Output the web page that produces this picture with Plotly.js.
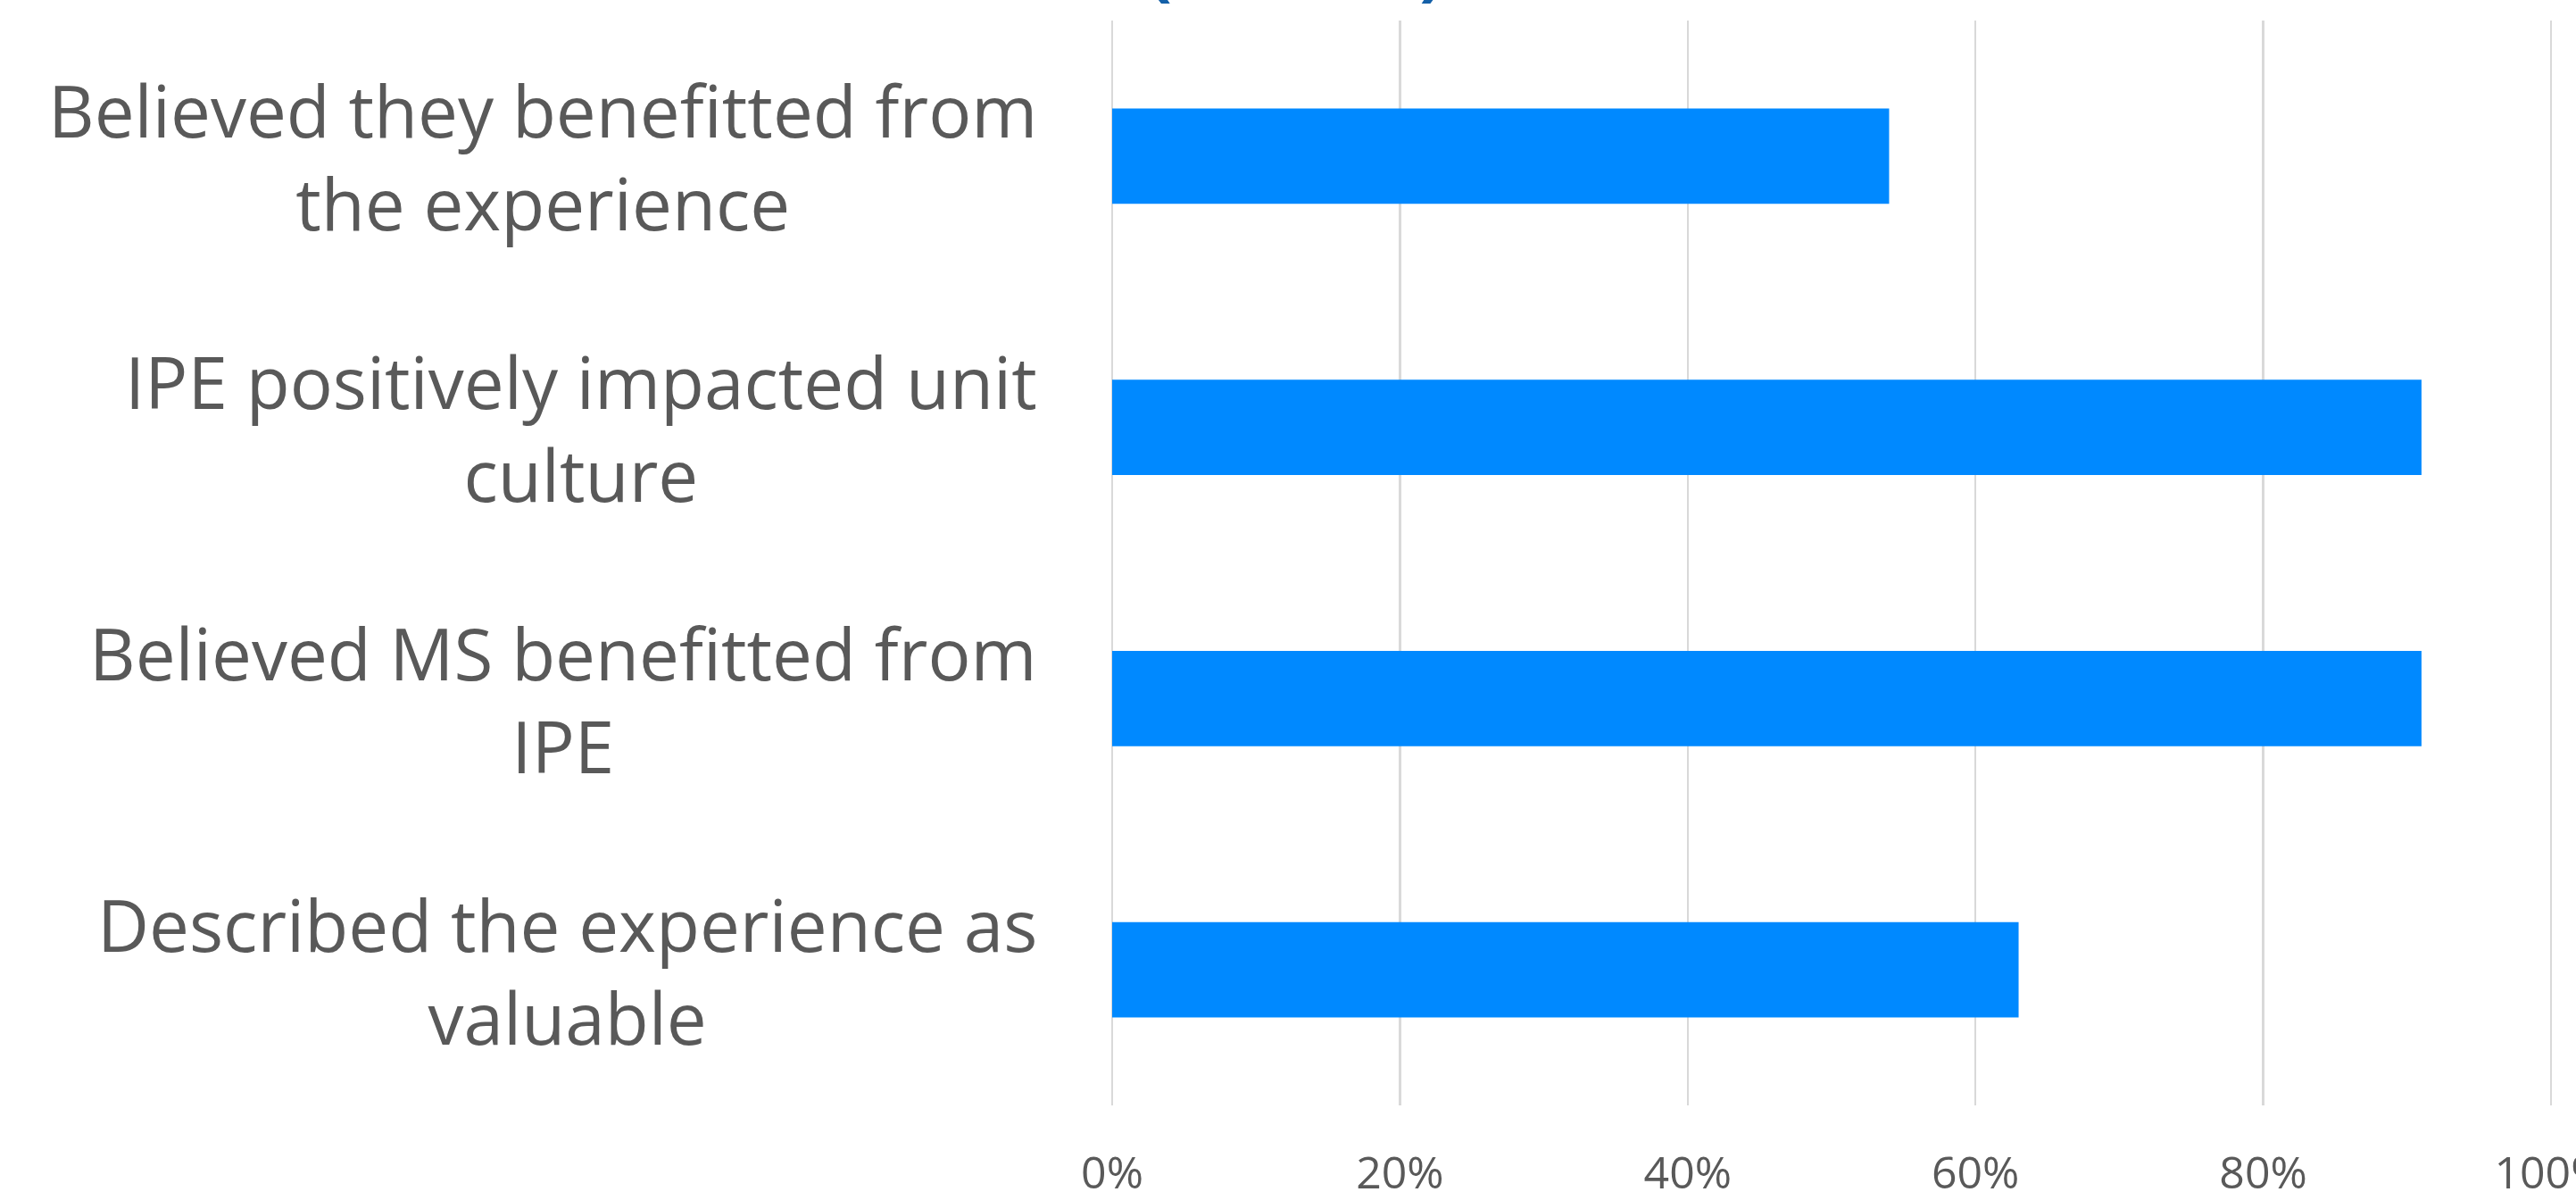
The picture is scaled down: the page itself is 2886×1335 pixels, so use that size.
<!DOCTYPE html>
<html>
<head>
<meta charset="utf-8">
<script src="https://cdn.plot.ly/plotly-3.0.1.min.js"></script>
<style>
html,body{margin:0;padding:0;background:#fff;}
#chart{width:2886px;height:1335px;}
</style>
</head>
<body>
<div id="chart"></div>
<script>
const categories = [
  "Believed they benefitted from<br>the experience",
  "IPE positively impacted unit<br>culture",
  "Believed MS benefitted from<br>IPE",
  "Described the experience as<br>valuable"
];
const values = [0.54, 0.91, 0.91, 0.63];
const tickValues = [0, 0.2, 0.4, 0.6, 0.8, 1.0];
const tickLabels = ["0%", "20%", "40%", "60%", "80%", "100%"];
const titleText = "<b>(n = 110)</b>";

const ids = categories.map((c, i) => "c" + i);

const trace = {
  type: "bar",
  orientation: "h",
  x: values,
  y: ids,
  marker: {color: "#0089FF", line: {width: 0}},
  hoverinfo: "none"
};

const annotations = categories.map((c, i) => ({
  text: c,
  xref: "paper",
  yref: "y",
  x: 0,
  y: ids[i],
  xanchor: "right",
  yanchor: "middle",
  xshift: -82,
  align: "center",
  showarrow: false,
  font: {family: "Open Sans", size: 80, color: "#595959"}
}));

annotations.push({
  text: titleText,
  xref: "paper",
  yref: "paper",
  x: 0.127,
  y: 1,
  xanchor: "center",
  yanchor: "bottom",
  yshift: 7,
  showarrow: false,
  font: {family: "Open Sans", size: 80, color: "#1460A8"}
});

const layout = {
  width: 2886,
  height: 1335,
  margin: {l: 1246, r: 24, t: 23, b: 97},
  paper_bgcolor: "#ffffff",
  plot_bgcolor: "#ffffff",
  bargap: 0.648,
  showlegend: false,
  xaxis: {
    range: [0, 1.0025],
    tickvals: tickValues,
    ticktext: tickLabels,
    showgrid: true,
    gridcolor: "#D9D9D9",
    gridwidth: 2.5,
    zeroline: true,
    zerolinecolor: "#D9D9D9",
    zerolinewidth: 2.5,
    showline: false,
    ticks: "",
    ticklabelstandoff: 42,
    ticklabeloverflow: "allow",
    tickfont: {family: "Open Sans", size: 50, color: "#595959"}
  },
  yaxis: {
    type: "category",
    autorange: "reversed",
    showticklabels: false,
    showgrid: false,
    zeroline: false,
    showline: false,
    ticks: ""
  },
  annotations: annotations
};

Plotly.newPlot("chart", [trace], layout, {displayModeBar: false, staticPlot: true});
</script>
</body>
</html>
